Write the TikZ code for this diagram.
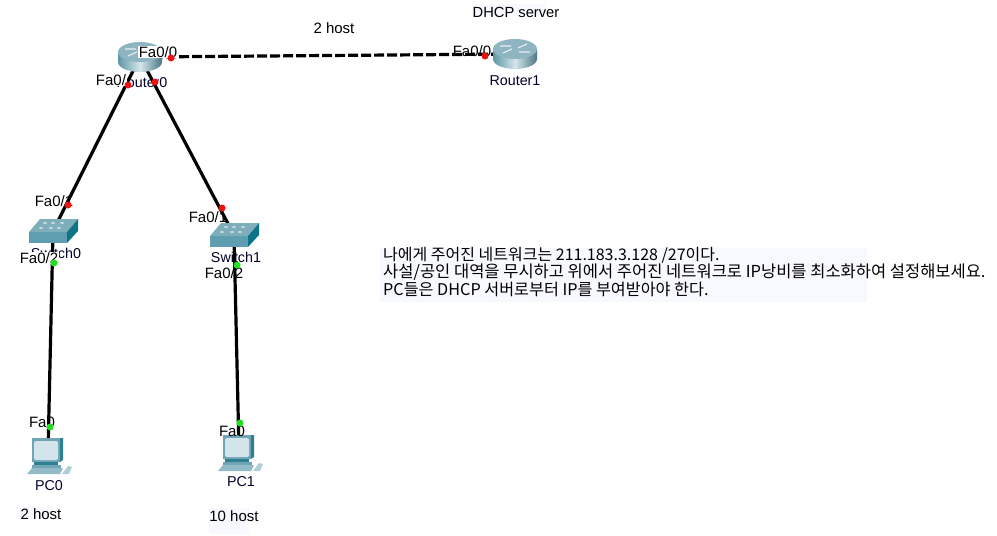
\documentclass[tikz,border=0pt]{standalone}
\usepackage{fontspec}
\setmainfont{Liberation Sans}
\newfontfamily\krfont{Noto Sans CJK KR}
\definecolor{pale}{HTML}{F8F9FE}
\definecolor{rtop}{HTML}{8FB4C2}
\definecolor{rdark}{HTML}{5E95A6}
\definecolor{rlight}{HTML}{D5E6EA}
\definecolor{swtop}{HTML}{7FAEBB}
\definecolor{swfront}{HTML}{5F9DB0}
\definecolor{swside}{HTML}{0F7488}
\definecolor{pcbody}{HTML}{6FA5B5}
\definecolor{pcdark}{HTML}{2F7F93}
\definecolor{pcscreen}{HTML}{D4E4EB}
\definecolor{portred}{HTML}{F01010}
\definecolor{portgreen}{HTML}{20E020}
\tikzset{
  x=1pt,y=-1pt,
  anchorpt/.style={inner sep=0pt,minimum size=0pt},
  wire/.style={line width=3.2pt,black},
  wan/.style={wire,dash pattern=on 10pt off 3pt},
  port/.style={font=\fontsize{15}{16}\selectfont,inner sep=0.5pt,fill=white},
  devlabel/.style={font=\fontsize{14.3}{15}\selectfont,inner sep=0pt,text=black!85!blue},
  note/.style={font=\fontsize{15}{16}\selectfont,inner sep=0pt},
  krnote/.style={inner sep=0pt,anchor=west},
  patch/.style={fill=pale,draw=none},
  reddot/.style={fill=portred,draw=none},
  greendot/.style={fill=portgreen,draw=none},
  router/.pic={
    \shade[left color=rdark,right color=rdark!80!black,middle color=rlight]
      (-22,-5) -- (-22,5) arc[start angle=180,end angle=0,x radius=22,y radius=10] -- (22,-5) -- cycle;
    \fill[rtop] (0,-5) ellipse[x radius=22,y radius=10];
    \draw[white,line width=1.1pt,opacity=.8]
      (-15,-8) -- (-4,-8) (15,-2) -- (4,-2) (-12,-1) -- (-3,-5) (12,-10) -- (3,-6);
  },
  switchicon/.pic={
    \fill[swtop] (-24,1) -- (-13,-12) -- (25,-12) -- (14,1) -- cycle;
    \fill[swfront] (-24,1) rectangle (14,12);
    \fill[swside] (14,1) -- (25,-12) -- (25,0) -- (14,12) -- cycle;
    \foreach \a/\b in {-12/-3,-2/-3,6/-3,-8/-8,0/-8,9/-8}
      \fill[white,opacity=.55] (\a,\b) ellipse[x radius=2,y radius=1];
  },
  pcicon/.pic={
    \fill[pcdark] (-16,-15) -- (15,-15) -- (15,7) -- (12,9) -- (-16,9) -- cycle;
    \fill[pcbody] (-16,-15) rectangle (12,9);
    \fill[pcscreen,rounded corners=2pt] (-14,-12) rectangle (10,7);
    \fill[pcdark] (-14,9) rectangle (10,12);
    \fill[pcbody] (-16,12) rectangle (13,15);
    \fill[pcbody!75!white] (-21,21) -- (-16,15) -- (15,15) -- (12,21) -- cycle;
    \fill[pcbody!55!white] (14,21) -- (20,13) -- (24,14) -- (21,21) -- cycle;
  }
}
\begin{document}
\begin{tikzpicture}
\useasboundingbox (0,0) rectangle (997,536);
% pale patches behind the notes
\fill[patch] (380,248) rectangle (867,302);
\fill[patch] (473,4) rectangle (545,16);
\fill[patch] (20,507) rectangle (54,518);
\fill[patch] (209,508) rectangle (249,534);
% device anchors
\node[anchorpt] (r0) at (140,57) {};
\node[anchorpt] (r1) at (515,54) {};
\node[anchorpt] (sw0) at (53,231) {};
\node[anchorpt] (sw1) at (234,235) {};
\node[anchorpt] (pc0) at (48,453) {};
\node[anchorpt] (pc1) at (239,450) {};
% connectors
\draw[wan] (r0) -- (r1);
\draw[wire] (r0) -- (sw0);
\draw[wire] (r0) -- (sw1);
\draw[wire] (sw0) -- (pc0);
\draw[wire] (sw1) -- (pc1);
% icons
\pic at (r0) {router};
\pic at (r1) {router};
\pic at (sw0) {switchicon};
\pic at (sw1) {switchicon};
\pic at (pc0) {pcicon};
\pic at (pc1) {pcicon};
% device labels
\node[devlabel] (lr0) at (142,83) {Router0};
\node[devlabel] (lr1) at (515,81) {Router1};
\node[devlabel] (ls0) at (56,253) {Switch0};
\node[devlabel] (ls1) at (236,257) {Switch1};
\node[devlabel] (lp0) at (49,486) {PC0};
\node[devlabel] (lp1) at (241,482) {PC1};
% port labels
\node[port] (p1) at (158,52) {Fa0/0};
\node[port,fill=none] (p2) at (472,51) {Fa0/0};
\node[port] (p3) at (111,80) {Fa0/};
\node[port,fill=none] (p4) at (54,201) {Fa0/1};
\node[port,fill=none] (p5) at (208,217) {Fa0/1};
\node[port] (p6) at (39,258) {Fa0/2};
\node[port,fill=none] (p7) at (224,273) {Fa0/2};
\node[port,fill=none] (p8) at (42,422) {Fa0};
\node[port,fill=none] (p9) at (232,431) {Fa0};
% port dots
\fill[reddot] (171,58) circle[radius=3.5];
\fill[reddot] (485,56) circle[radius=3.5];
\fill[reddot] (128,85) circle[radius=3.5];
\fill[reddot] (155,82) circle[radius=3.5];
\fill[reddot] (68,205) circle[radius=3.5];
\fill[reddot] (222,208) circle[radius=3.5];
\fill[greendot] (54,263) circle[radius=3.5];
\fill[greendot] (237,265) circle[radius=3.5];
\fill[greendot] (50,427) circle[radius=3.5];
\fill[greendot] (240,423) circle[radius=3.5];
% notes
\node[note] (n1) at (334,28) {2 host};
\node[note,font=\fontsize{14.7}{16}\selectfont] (n2) at (516,12) {DHCP server};
\node[note] (n3) at (41,514) {2 host};
\node[note] (n4) at (234,516) {10 host};
\node[krnote,font=\krfont\fontsize{16}{17}\selectfont] (n5) at (383,255) {나에게 주어진 네트워크는 211.183.3.128 /27이다.};
\node[krnote,font=\krfont\fontsize{16.5}{17}\selectfont] (n6) at (383,272) {사설/공인 대역을 무시하고 위에서 주어진 네트워크로 IP낭비를 최소화하여 설정해보세요.};
\node[krnote,font=\krfont\fontsize{16.2}{17}\selectfont] (n7) at (383,289) {PC들은 DHCP 서버로부터 IP를 부여받아야 한다.};
\end{tikzpicture}
\end{document}
